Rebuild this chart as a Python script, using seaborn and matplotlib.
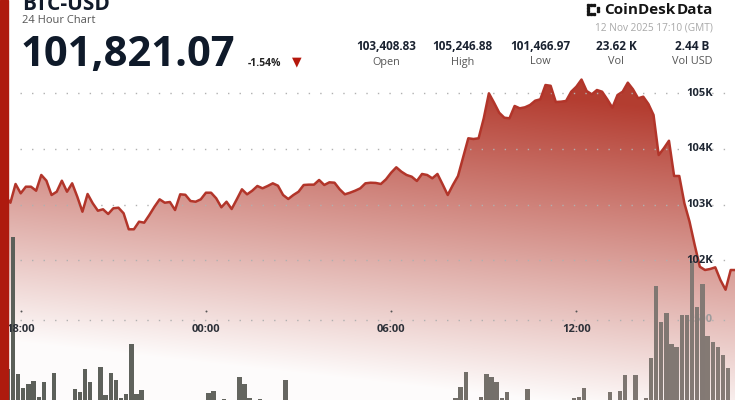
import numpy as np
import pandas as pd
import matplotlib
matplotlib.use("Agg")
import matplotlib.pyplot as plt
import seaborn as sns
from matplotlib.patches import Rectangle
from matplotlib.colors import to_rgb
from matplotlib.transforms import blended_transform_factory

# ---------------- data ----------------
# BTC-USD price, 10-minute steps from 17:10 (prev day) to 17:10
prices = [
    103409, 103300, 103150, 103032, 103369, 103201, 103320, 103320, 103248, 103531,
    103428, 103171, 103230, 103428, 103230, 103381, 103140, 102870, 103189, 103022,
    102888, 102914, 102829, 102932, 102942, 102842, 102554, 102554, 102691, 102673,
    102811, 102960, 103093, 103032, 103045, 102901, 103183, 103175, 103063, 103050,
    103093, 103212, 103212, 103111, 102950, 103050, 102919, 103093, 103273, 103183,
    103248, 103333, 103291, 103333, 103381, 103338, 103171, 103099, 103171, 103230,
    103351, 103357, 103357, 103441, 103351, 103399, 103392, 103273, 103183, 103212,
    103248, 103291, 103381, 103392, 103388, 103369, 103453, 103572, 103669, 103590,
    103531, 103500, 103423, 103549, 103531, 103471, 103549, 103363, 103171, 103351,
    103513, 103849, 104191, 104178, 104191, 104550, 105000, 104831, 104651, 104561,
    104550, 104772, 104730, 104748, 104790, 104867, 104892, 105149, 105135, 104844,
    104849, 104862, 105029, 105119, 105247, 105041, 104982, 105059, 105029, 104892,
    104741, 104969, 105029, 105191, 105072, 104910, 104939, 104808, 104610, 103890,
    104011, 104147, 103513, 103513, 103022, 102691, 102272, 101881, 101822, 101840,
    101870, 101642, 101467, 101822, 101821,
]
# BTC volume per 10-minute bar
volumes = [
    90, 80, 110, 254, 913, 229, 162, 180, 197, 114,
    192, 85, 234, 70, 90, 80, 157, 139, 257, 192,
    100, 264, 124, 234, 200, 109, 130, 379, 130, 150,
    75, 60, 85, 70, 55, 65, 80, 50, 60, 70,
    90, 85, 134, 147, 95, 105, 80, 90, 215, 180,
    110, 75, 107, 70, 85, 60, 90, 202, 95, 80,
    65, 70, 55, 60, 75, 50, 45, 60, 70, 55,
    65, 50, 60, 45, 55, 70, 65, 80, 60, 75,
    85, 70, 90, 65, 80, 95, 75, 85, 90, 70,
    110, 164, 242, 95, 90, 117, 230, 215, 189, 110,
    139, 85, 95, 90, 154, 80, 90, 70, 85, 95,
    75, 80, 90, 109, 117, 162, 95, 85, 90, 95,
    139, 95, 147, 227, 95, 227, 98, 112, 309, 672,
    489, 537, 380, 367, 524, 525, 795, 564, 679, 420,
    392, 364, 325, 262,
]
hour_ticks = [0, 6, 12, 18]
hour_labels = ["18:00", "00:00", "06:00", "12:00"]
price_ticks = [105000, 104000, 103000, 102000]
price_tick_labels = ["105K", "104K", "103K", "102K"]
vol_tick = 500
vol_tick_label = "500"
stat_values = ["103,408.83", "105,246.88", "101,466.97", "23.62 K", "2.44 B"]
stat_names = ["Open", "High", "Low", "Vol", "Vol USD"]
pair_name = "BTC-USD"
subtitle = "24 Hour Chart"
last_price = "101,821.07"
change_pct = "-1.54%"
stamp = "12 Nov 2025 17:10 (GMT)"

# ---------------- layout ----------------
W, H = 735, 400
sns.set_theme(style="white")
plt.rcParams['font.family'] = ['Open Sans', 'DejaVu Sans']

fig = plt.figure(figsize=(7.35, 4.0), dpi=100)
fig.patch.set_facecolor('white')

X0_PX, PX_PER_H = 20.7, 30.87          # 18:00 position, px per hour
Y105, PX_PER_K = 93.3, 55.6            # 105K position, px per 1000 USD


def px2t(px):
    return (px - X0_PX) / PX_PER_H


def py2price(py):
    return 105000 - (py - Y105) / PX_PER_K * 1000


xlim = (px2t(0), px2t(W))
ylim = (py2price(H), py2price(0))
vlim = (100, 2100)

t_price = -5 / 6 + np.arange(len(prices)) / 6
t_vol = -11 / 12 + np.arange(len(volumes)) / 6
df_p = pd.DataFrame({'t': t_price, 'price': prices})
df_v = pd.DataFrame({'t': t_vol, 'vol': volumes})

ax_fill = fig.add_axes([0, 0, 1, 1])
ax_vol = fig.add_axes([0, 0, 1, 1])
ax_line = fig.add_axes([0, 0, 1, 1])
ax_ov = fig.add_axes([0, 0, 1, 1])

# ---- gradient area ----
ys, xs = np.mgrid[0:H, 0:W] + 0.5
y_eq = ys - (xs - 40) / 9.0
alpha = np.clip(0.92 * (1 - (y_eq - 50) / 300.0), 0.015, 0.95)
red = np.array(to_rgb('#b03326'))
img = np.ones((H, W, 3)) * (1 - alpha[..., None]) + red * alpha[..., None]
im = ax_fill.imshow(img, extent=(xlim[0], xlim[1], ylim[0], ylim[1]), origin='upper',
                    aspect='auto', zorder=1, interpolation='bilinear')
poly = ax_fill.fill_between(df_p['t'], df_p['price'], ylim[0], facecolor='none', edgecolor='none')
im.set_clip_path(poly.get_paths()[0], transform=ax_fill.transData)

# dotted grid lines
GRID_KW = dict(color='#b0b0b0', lw=1.0, ls=(0, (1.0, 7.3)))
gx0 = px2t(20)
for p in price_ticks:
    ax_fill.plot([gx0, xlim[1]], [p, p], zorder=2, **GRID_KW)

# ---- volume bars ----
ax_vol.plot([gx0, xlim[1]], [vol_tick, vol_tick], zorder=1, **GRID_KW)
ax_vol.text(px2t(713), vol_tick, vol_tick_label, ha='right', va='center', fontsize=8,
            fontweight='bold', color='#9c9c9c', zorder=2)
c_left = np.array(to_rgb('#5b5f59'))
c_right = np.array(to_rgb('#867b76'))
frac = np.clip((X0_PX + df_v['t'].values * PX_PER_H) / W, 0, 1) ** 1.4
bar_colors = [tuple(c_left * (1 - f) + c_right * f) for f in frac]
ax_vol.bar(df_v['t'], df_v['vol'], width=0.1425, color=bar_colors, linewidth=0, zorder=3)

# ---- price line ----
sns.lineplot(data=df_p, x='t', y='price', ax=ax_line, color='#b2352a', linewidth=1.8, zorder=4)

for p, lab in zip(price_ticks, price_tick_labels):
    ax_line.text(px2t(713), p, lab, ha='right', va='center', fontsize=8, fontweight='bold',
                 color='#1f2733', zorder=6)

trans = blended_transform_factory(ax_line.transData, ax_line.transAxes)
for t, lab in zip(hour_ticks, hour_labels):
    ax_line.text(t, 1 - 329 / H, lab, transform=trans, ha='center', va='center', fontsize=8,
                 fontweight='bold', color='#2c3038', zorder=6)
ax_line.scatter(hour_ticks, [1 - 310.7 / H] * len(hour_ticks), transform=trans, s=2,
                color='#555555', zorder=6, linewidths=0)

for a in (ax_fill, ax_vol, ax_line):
    a.set_xlim(*xlim)
    a.axis('off')
ax_fill.set_ylim(*ylim)
ax_line.set_ylim(*ylim)
ax_vol.set_ylim(*vlim)

# ---- header overlay (pixel coordinates) ----
ax_ov.set_xlim(0, W)
ax_ov.set_ylim(H, 0)
ax_ov.axis('off')
ax_ov.add_patch(Rectangle((0, 0), 8, H, color='#ae1a0e', zorder=10))

ax_ov.text(22, 10, pair_name, fontsize=15, fontweight='bold', color='#111a2a', va='baseline')
ax_ov.text(22, 20.5, subtitle, fontsize=8, color='#555555', va='center')
ax_ov.text(21, 66, last_price, fontsize=30, fontweight='bold', color='#0f1a2a', va='baseline')
ax_ov.text(248, 63.5, change_pct, fontsize=7.5, fontweight='bold', color='#222222', va='center')
ax_ov.text(296.5, 62, '\u25BC', fontsize=9, color='#b5170c', ha='center', va='center',
           family=['DejaVu Sans'])

stat_x = [386.7, 462.5, 540.3, 616.0, 692.5]
for x, v, n in zip(stat_x, stat_values, stat_names):
    ax_ov.text(x, 46, v, ha='center', va='center', fontsize=8.5, fontweight='bold', color='#1a2230')
    ax_ov.text(x, 62, n, ha='center', va='center', fontsize=7.8, color='#555555')

ax_ov.text(713, 28, stamp, ha='right', va='center', fontsize=7.3, color='#a8a8a8')

# logo
for (x, y) in [(587, 3.5), (590, 3.5), (593, 3.5), (587, 6.7), (587, 9.9),
               (587, 12.8), (590, 12.8), (593, 12.8), (597, 6.7), (597, 9.9)]:
    ax_ov.add_patch(Rectangle((x, y), 2.4, 2.4, color='#151515', zorder=10))
ax_ov.text(604, 13.5, 'CoinDesk', fontsize=11, fontweight='bold', color='#151515', va='baseline')
ax_ov.text(713.5, 13.5, 'Data', fontsize=11, fontweight='bold', color='#151515',
           va='baseline', ha='right')

fig.savefig('out.png', dpi=100, facecolor='white')
